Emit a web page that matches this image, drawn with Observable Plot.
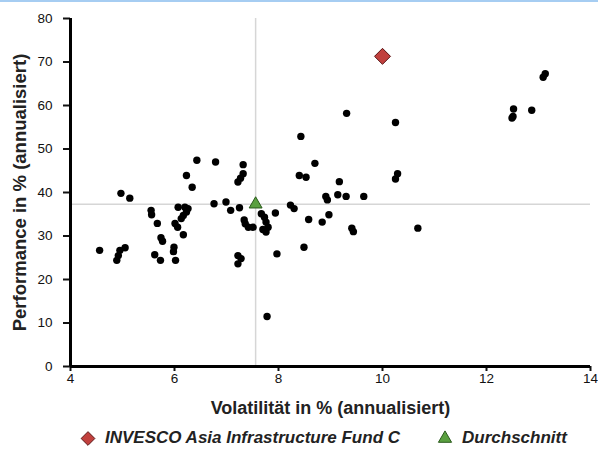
<!DOCTYPE html>
<html>
<head>
<meta charset="utf-8">
<script src="https://cdn.jsdelivr.net/npm/d3@7"></script>
<script src="https://cdn.jsdelivr.net/npm/@observablehq/plot@0.6"></script>
<style>
  html, body { margin: 0; padding: 0; background: #fff; }
  body { width: 598px; height: 449px; position: relative; overflow: hidden; font-family: "Liberation Sans", Arial, sans-serif; }
  #topline { position: absolute; left: 0; top: 0; width: 598px; height: 2px; background: #a6cdf2; }
  #legend { position: absolute; left: 79px; top: 427px; height: 22px; display: flex; align-items: center; font-weight: bold; font-style: italic; font-size: 17px; color: #222; white-space: nowrap; }
  #legend .item { display: flex; align-items: center; }
  #legend svg { margin-right: 8px; }
</style>
</head>
<body>
<div id="chart"></div>
<div id="legend"></div>
<div id="topline"></div>
<script>
// Peer funds: volatility (x) and performance (y), % annualised
const volatility = [
  4.56, 4.89, 4.92, 4.95, 5.05, 4.97, 5.14, 5.55, 5.56, 5.67,
  5.74, 5.77, 5.62, 5.73, 5.99, 5.98, 6.02, 6.01, 6.06, 6.17,
  6.07, 6.20, 6.26, 6.23, 6.17, 6.13, 6.23, 6.34, 6.43, 6.79,
  6.76, 6.99, 7.08, 7.25, 7.32, 7.32, 7.27, 7.22, 7.34, 7.36,
  7.42, 7.51, 7.67, 7.73, 7.76, 7.80, 7.76, 7.70, 7.22, 7.28,
  7.22, 7.78, 7.97, 7.94, 8.23, 8.30, 8.58, 8.84, 8.97, 8.49,
  8.40, 8.53, 8.43, 8.70, 9.17, 8.91, 8.94, 9.14, 9.30, 9.64,
  9.31, 10.25, 10.29, 10.25, 9.41, 9.44, 10.68, 13.13, 13.09, 12.52,
  12.51, 12.87, 12.49
];
const performance = [
  26.7, 24.4, 25.5, 26.7, 27.3, 39.8, 38.7, 35.9, 34.9, 32.9,
  29.6, 28.8, 25.7, 24.4, 27.4, 26.4, 24.4, 32.9, 32.0, 30.3,
  36.6, 36.6, 36.3, 35.5, 34.7, 34.0, 43.9, 41.2, 47.4, 47.0,
  37.4, 37.8, 35.9, 36.5, 46.4, 44.3, 43.3, 42.4, 33.7, 32.8,
  32.0, 32.0, 35.1, 34.3, 33.2, 32.0, 30.9, 31.5, 25.5, 24.8,
  23.6, 11.5, 25.9, 35.3, 37.1, 36.3, 33.8, 33.2, 34.9, 27.4,
  43.9, 43.5, 52.9, 46.7, 42.5, 39.1, 38.3, 39.5, 39.1, 39.1,
  58.2, 56.1, 44.3, 43.1, 31.8, 31.0, 31.8, 67.3, 66.5, 59.2,
  57.5, 58.9, 57.1
];
// Highlighted fund and peer average
const fundName = "INVESCO Asia Infrastructure Fund C";
const fundVolatility = [10.0];
const fundPerformance = [71.3];
const avgName = "Durchschnitt";
const avgVolatility = [7.56];
const avgPerformance = [37.3];
// Axes
const xTicks = [4, 6, 8, 10, 12, 14];
const yTicks = [0, 10, 20, 30, 40, 50, 60, 70, 80];
const xTitle = "Volatilität in % (annualisiert)";
const yTitle = "Performance in % (annualisiert)";

const fundColor = "#c1403d", fundStroke = "#5a1414";
const avgColor = "#5aa040", avgStroke = "#2a5a1c";

const peers = volatility.map((v, i) => ({x: v, y: performance[i]}));
const fund = fundVolatility.map((v, i) => ({x: v, y: fundPerformance[i]}));
const avg = avgVolatility.map((v, i) => ({x: v, y: avgPerformance[i]}));

const chart = Plot.plot({
  width: 598,
  height: 420,
  marginLeft: 70,
  marginRight: 8,
  marginTop: 18,
  marginBottom: 54,
  style: {fontFamily: "'Liberation Sans', Arial, sans-serif", fontSize: "13px", color: "#111", background: "white"},
  x: {domain: [4, 14]},
  y: {domain: [0, 80]},
  marks: [
    Plot.ruleX(avg, {x: "x", stroke: "#d6d6d6", strokeWidth: 1.5}),
    Plot.ruleY(avg, {y: "y", stroke: "#d6d6d6", strokeWidth: 1.5}),
    Plot.axisX({ticks: xTicks, tickSize: 5, tickPadding: 2, strokeWidth: 2, label: null, fontSize: 13.5}),
    Plot.axisY({ticks: yTicks, tickSize: 7, tickPadding: 11, strokeWidth: 2, label: null, fontSize: 13.5}),
    Plot.ruleY([0], {strokeWidth: 3, stroke: "#000"}),
    Plot.ruleX([4], {strokeWidth: 3, stroke: "#000"}),
    Plot.dot(peers, {x: "x", y: "y", r: 3.7, fill: "#000"}),
    Plot.dot(fund, {x: "x", y: "y", symbol: "diamond2", r: 7.2, fill: fundColor, stroke: fundStroke, strokeWidth: 1}),
    Plot.dot(avg, {x: "x", y: "y", symbol: "triangle", r: 4.8, fill: avgColor, stroke: avgStroke, strokeWidth: 1}),
    Plot.text([xTitle], {frameAnchor: "bottom", dy: 42, lineAnchor: "middle", text: d => d, fontWeight: "bold", fontSize: 18, fill: "#222"}),
    Plot.text([yTitle], {frameAnchor: "left", dx: -50, rotate: -90, textAnchor: "middle", lineAnchor: "middle", text: d => d, fontWeight: "bold", fontSize: 18.5, fill: "#222"})
  ]
});
document.getElementById("chart").appendChild(chart);

// Legend
const legend = d3.select("#legend");
const items = [
  {name: fundName, symbol: d3.symbolDiamond2, size: 120, fill: fundColor, stroke: fundStroke},
  {name: avgName, symbol: d3.symbolTriangle, size: 75, fill: avgColor, stroke: avgStroke}
];
items.forEach((it, i) => {
  const el = legend.append("div").attr("class", "item").style("margin-left", i ? "36px" : "0px");
  const s = el.append("svg").attr("width", 18).attr("height", 18);
  s.append("path").attr("transform", "translate(9,9.5)")
    .attr("d", d3.symbol(it.symbol, it.size)())
    .attr("fill", it.fill).attr("stroke", it.stroke);
  el.append("span").text(it.name);
});
</script>
</body>
</html>
